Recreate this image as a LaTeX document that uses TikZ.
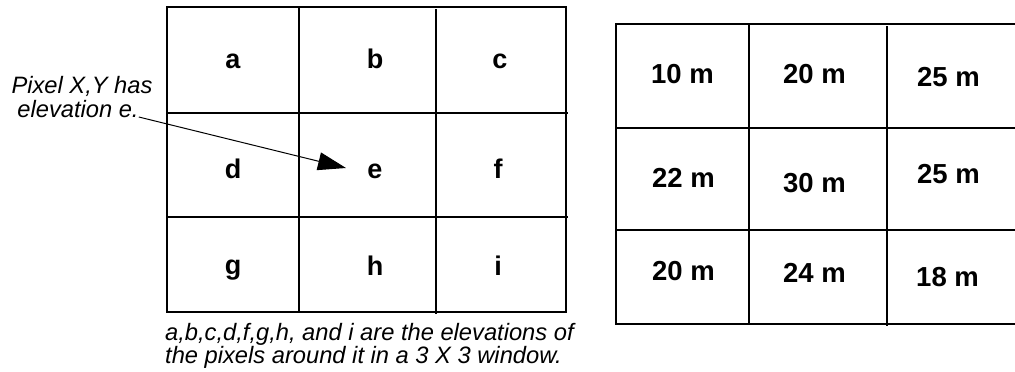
\documentclass[tikz,border=0pt]{standalone}
\usepackage{fontspec}
\setmainfont{Liberation Sans}
\usetikzlibrary{arrows.meta}
\begin{document}
\begin{tikzpicture}[x=1pt,y=-1pt,
  grid/.style={line width=1.2pt,black},
  cellletter/.style={inner sep=0pt,anchor=base,font=\fontsize{27}{30}\selectfont\bfseries},
  cellnum/.style={inner sep=0pt,anchor=base west,font=\fontsize{27.5}{30}\selectfont\bfseries},
  note/.style={inner sep=0pt,font=\fontsize{23.7}{24}\selectfont\itshape},
  pointer/.style={line width=1pt,-{Triangle[length=28pt,width=18pt]}}]
\useasboundingbox (0,0) rectangle (1015,372);
% left grid
\draw[grid] (167,7) rectangle (566,312);
\draw[grid] (299,7) -- (299,312);
\draw[grid] (436,9) -- (436,314);
\draw[grid] (167,113) -- (568,113);
\draw[grid] (167,217) -- (568,217);
\node[cellletter] (a) at (233,68) {a};
\node[cellletter] (b) at (375,68) {b};
\node[cellletter] (c) at (500,68) {c};
\node[cellletter] (d) at (233,178) {d};
\node[cellletter] (e) at (375,178) {e};
\node[cellletter] (f) at (498,178) {f};
\node[cellletter] (g) at (233,274) {g};
\node[cellletter] (h) at (375,275) {h};
\node[cellletter] (i) at (498,275) {i};
% label and pointer
\node[note,anchor=base] (lbla) at (82,93) {Pixel X,Y has};
\node[note,anchor=base] (lblb) at (78,117) {elevation e.};
\coordinate (tip) at (346,168);
\draw[pointer] (lblb.base east) -- (tip);
% caption
\node[note,anchor=base west] (capa) at (165,340) {a,b,c,d,f,g,h, and i are the elevations of};
\node[note,anchor=base west] (capb) at (165,363) {the pixels around it in a 3 X 3 window.};
% right grid
\draw[grid] (1015,24) -- (616,24) -- (616,324) -- (1015,324);
\draw[grid] (616,128) -- (1015,128);
\draw[grid] (616,230) -- (1015,230);
\draw[grid] (749,24) -- (749,324);
\draw[grid] (887,26) -- (887,326);
\node[cellnum] (r11) at (651,83) {10 m};
\node[cellnum] (r12) at (783,83) {20 m};
\node[cellnum] (r13) at (917,86) {25 m};
\node[cellnum] (r21) at (652,187) {22 m};
\node[cellnum] (r22) at (783,192) {30 m};
\node[cellnum] (r23) at (917,183) {25 m};
\node[cellnum] (r31) at (652,280) {20 m};
\node[cellnum] (r32) at (783,282) {24 m};
\node[cellnum] (r33) at (916,286) {18 m};
\end{tikzpicture}
\end{document}
